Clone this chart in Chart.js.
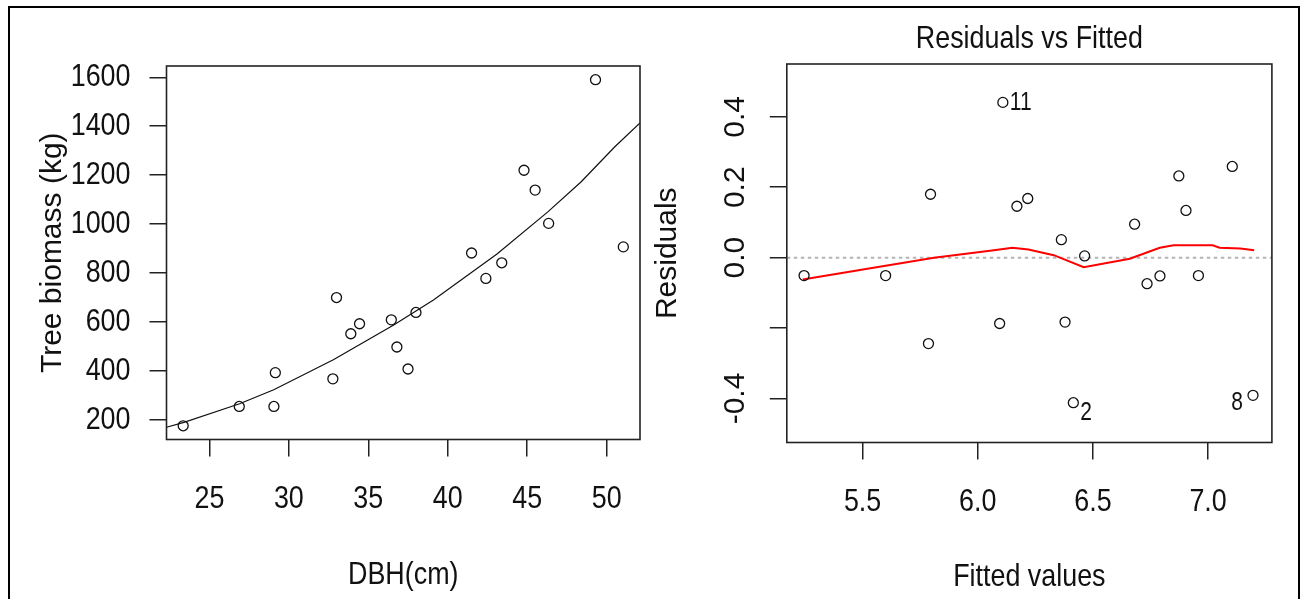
<!DOCTYPE html>
<html><head><meta charset="utf-8">
<script src="https://cdn.jsdelivr.net/npm/chart.js@4.4.1/dist/chart.umd.min.js"></script>
<style>
html,body{margin:0;padding:0;background:#fff;overflow:hidden;}
#wrap{position:relative;width:1300px;height:599px;overflow:hidden;}
#frame{position:absolute;left:8px;top:6px;width:1288px;height:700px;border:2px solid #000;}
#c1{position:absolute;left:0;top:0;}
#c2{position:absolute;left:650px;top:0;}
</style></head><body>
<div id="wrap"><div id="frame"></div>
<canvas id="c1" width="650" height="599"></canvas>
<canvas id="c2" width="650" height="599"></canvas>
</div>
<script>
// ---- Left panel: biomass vs DBH ----
const dbh = [23.35, 26.88, 29.06, 29.15, 32.77, 33.0, 33.9, 34.45, 36.45, 36.8, 37.5, 38.0, 41.5, 42.4, 43.4, 44.8, 45.5, 46.35, 49.3, 51.05];
const biomass = [176, 255, 255, 393, 368, 700, 552, 593, 609, 498, 408, 639, 882, 778, 842, 1220, 1139, 1003, 1590, 907];
const curveDbh = [22.3, 23.4, 26.9, 29.05, 32.8, 36.6, 39.1, 43.1, 46.3, 48.4, 50.5, 52.1];
const curveBiomass = [170, 190, 266, 323, 446, 588, 690, 878, 1050, 1173, 1315, 1413];
const dbhTicks = [25, 30, 35, 40, 45, 50];
const biomassTicks = [200, 400, 600, 800, 1000, 1200, 1400, 1600];
const dbhRange = [22.3, 52.1];
const biomassRange = [120, 1646];

// ---- Right panel: Residuals vs Fitted ----
const fitted = [5.246, 5.600, 5.786, 5.795, 6.095, 6.109, 6.170, 6.217, 6.363, 6.379, 6.415, 6.464, 6.681, 6.735, 6.791, 6.873, 6.904, 6.958, 7.105, 7.195];
const residuals = [-0.051, -0.051, -0.244, 0.180, -0.187, 0.441, 0.146, 0.168, 0.051, -0.183, -0.412, 0.005, 0.095, -0.074, -0.052, 0.232, 0.134, -0.051, 0.259, -0.391];
const residualIds = ['', '', '', '', '', '11', '', '', '', '', '2', '', '', '', '', '', '', '', '', '8'];
const smoothFitted = [5.24, 5.58, 5.81, 6.07, 6.15, 6.22, 6.33, 6.46, 6.66, 6.79, 6.85, 7.02, 7.05, 7.14, 7.20];
const smoothResid = [-0.062, -0.025, 0.0, 0.021, 0.028, 0.023, 0.007, -0.027, -0.003, 0.028, 0.035, 0.035, 0.028, 0.026, 0.021];
const fittedTicks = [5.5, 6.0, 6.5, 7.0];
const fittedTickLabels = ['5.5', '6.0', '6.5', '7.0'];
const residTicks = [-0.4, -0.2, 0.0, 0.2, 0.4];
const residTickLabels = ['-0.4', '', '0.0', '0.2', '0.4'];
const fittedRange = [5.171, 7.277];
const residRange = [-0.525, 0.55];

const FONT = "'Liberation Sans', Arial, sans-serif";
const INK = '#111';
const SQUEEZE = 0.84; // horizontal text is condensed in the original

// horizontal (unrotated) text is drawn condensed about its anchor point
function condenseText(ctx) {
  const orig = ctx.fillText;
  ctx.fillText = function (text, x, y, maxWidth) {
    const m = this.getTransform();
    if (Math.abs(m.b) > 1e-6 || Math.abs(m.c) > 1e-6) {
      return maxWidth === undefined ? orig.call(this, text, x, y) : orig.call(this, text, x, y, maxWidth);
    }
    this.save();
    this.translate(x, y);
    this.scale(SQUEEZE, 1);
    orig.call(this, text, 0, 0);
    this.restore();
  };
  return ctx;
}

const zip = (xs, ys) => xs.map((x, i) => ({x: x, y: ys[i]}));

const boxPlugin = {
  id: 'box',
  afterDatasetsDraw(chart) {
    const {ctx, chartArea: a} = chart;
    ctx.save();
    ctx.strokeStyle = '#222';
    ctx.lineWidth = 1.6;
    ctx.strokeRect(a.left, a.top, a.right - a.left, a.bottom - a.top);
    ctx.restore();
  }
};

const idStyle = {'11': [7, 1, 'left'], '2': [7, 10, 'left'], '8': [-10, 8, 'right']};
const idPlugin = {
  id: 'ids',
  afterDatasetsDraw(chart) {
    const {ctx} = chart;
    const meta = chart.getDatasetMeta(0);
    ctx.save();
    ctx.font = '25px ' + FONT;
    ctx.fillStyle = INK;
    ctx.textBaseline = 'middle';
    residualIds.forEach((t, i) => {
      if (!t) return;
      const p = meta.data[i];
      const s = idStyle[t] || [7, 0, 'left'];
      ctx.textAlign = s[2];
      ctx.fillText(t, p.x + s[0], p.y + s[1]);
    });
    ctx.restore();
  }
};

function makeScale(o) {
  return {
    type: 'linear',
    position: o.position,
    min: o.range[0], max: o.range[1],
    bounds: 'data',
    afterBuildTicks: (s) => { s.ticks = o.ticks.map(v => ({value: v})); },
    afterFit: (s) => { if (o.position === 'left') s.width = o.size; else s.height = o.size; },
    grid: {display: true, drawOnChartArea: false, drawTicks: true, tickLength: 17, color: '#222', lineWidth: 1.5},
    border: {display: false},
    ticks: {
      autoSkip: false,
      padding: o.pad,
      color: INK,
      font: o.tickFont,
      minRotation: o.rot || 0, maxRotation: o.rot || 0,
      crossAlign: o.crossAlign || 'near',
      callback: (v, i) => o.labels[i]
    },
    title: {display: true, text: o.title, color: INK, font: o.titleFont, padding: o.titlePad}
  };
}

const common = {
  responsive: false,
  animation: false,
  events: []
};

const hFont = {family: FONT, size: 32, lineHeight: 1.2, weight: 'normal'};
const rFont = {family: FONT, size: 30, lineHeight: 1.2, weight: 'normal'};
const pointStyle = {pointRadius: 5, pointBorderWidth: 1.3, pointBorderColor: INK, pointBackgroundColor: 'rgba(0,0,0,0)', showLine: false};

new Chart(condenseText(document.getElementById('c1').getContext('2d')), {
  type: 'scatter',
  data: {datasets: [
    Object.assign({data: zip(dbh, biomass)}, pointStyle),
    {data: zip(curveDbh, curveBiomass), showLine: true, pointRadius: 0, borderColor: INK, borderWidth: 1.2, tension: 0}
  ]},
  options: Object.assign({}, common, {
    layout: {padding: {left: 0, right: 10, top: 66, bottom: 0}},
    plugins: {legend: {display: false}, tooltip: {enabled: false}},
    scales: {
      x: makeScale({position: 'bottom', range: dbhRange, ticks: dbhTicks, labels: dbhTicks.map(String), size: 159.5, pad: 23,
        tickFont: hFont, title: 'DBH(cm)', titleFont: hFont, titlePad: {top: 0, bottom: 4.3}}),
      y: makeScale({position: 'left', range: biomassRange, ticks: biomassTicks, labels: biomassTicks.map(String), size: 166.5, pad: 19,
        tickFont: hFont, title: 'Tree biomass (kg)', titleFont: rFont, titlePad: {top: 35, bottom: 0}})
    }
  }),
  plugins: [boxPlugin]
});

new Chart(condenseText(document.getElementById('c2').getContext('2d')), {
  type: 'scatter',
  data: {datasets: [
    Object.assign({data: zip(fitted, residuals)}, pointStyle),
    {data: zip(smoothFitted, smoothResid), showLine: true, pointRadius: 0, borderColor: '#ff0000', borderWidth: 2, tension: 0},
    {data: zip(fittedRange, [0, 0]), showLine: true, pointRadius: 0, borderColor: '#b4b4b4', borderWidth: 2, borderDash: [3.5, 3.5]}
  ]},
  options: Object.assign({}, common, {
    layout: {padding: {left: 0, right: 28.1, top: 0, bottom: 0}},
    plugins: {
      legend: {display: false}, tooltip: {enabled: false},
      title: {display: true, fullSize: false, align: 'center', text: 'Residuals vs Fitted', color: INK,
        font: {family: FONT, size: 32, lineHeight: 1, weight: 'normal'}, padding: {top: 23, bottom: 9}}
    },
    scales: {
      x: makeScale({position: 'bottom', range: fittedRange, ticks: fittedTicks, labels: fittedTickLabels, size: 156.5, pad: 23,
        tickFont: hFont, title: 'Fitted values', titleFont: hFont, titlePad: {top: 0, bottom: 3.1}}),
      y: makeScale({position: 'left', range: residRange, ticks: residTicks, labels: residTickLabels, size: 136.8, pad: 8, rot: 90, crossAlign: 'center',
        tickFont: rFont, title: 'Residuals', titleFont: rFont, titlePad: {top: 0, bottom: 0}})
    }
  }),
  plugins: [boxPlugin, idPlugin]
});
</script>
</body></html>
